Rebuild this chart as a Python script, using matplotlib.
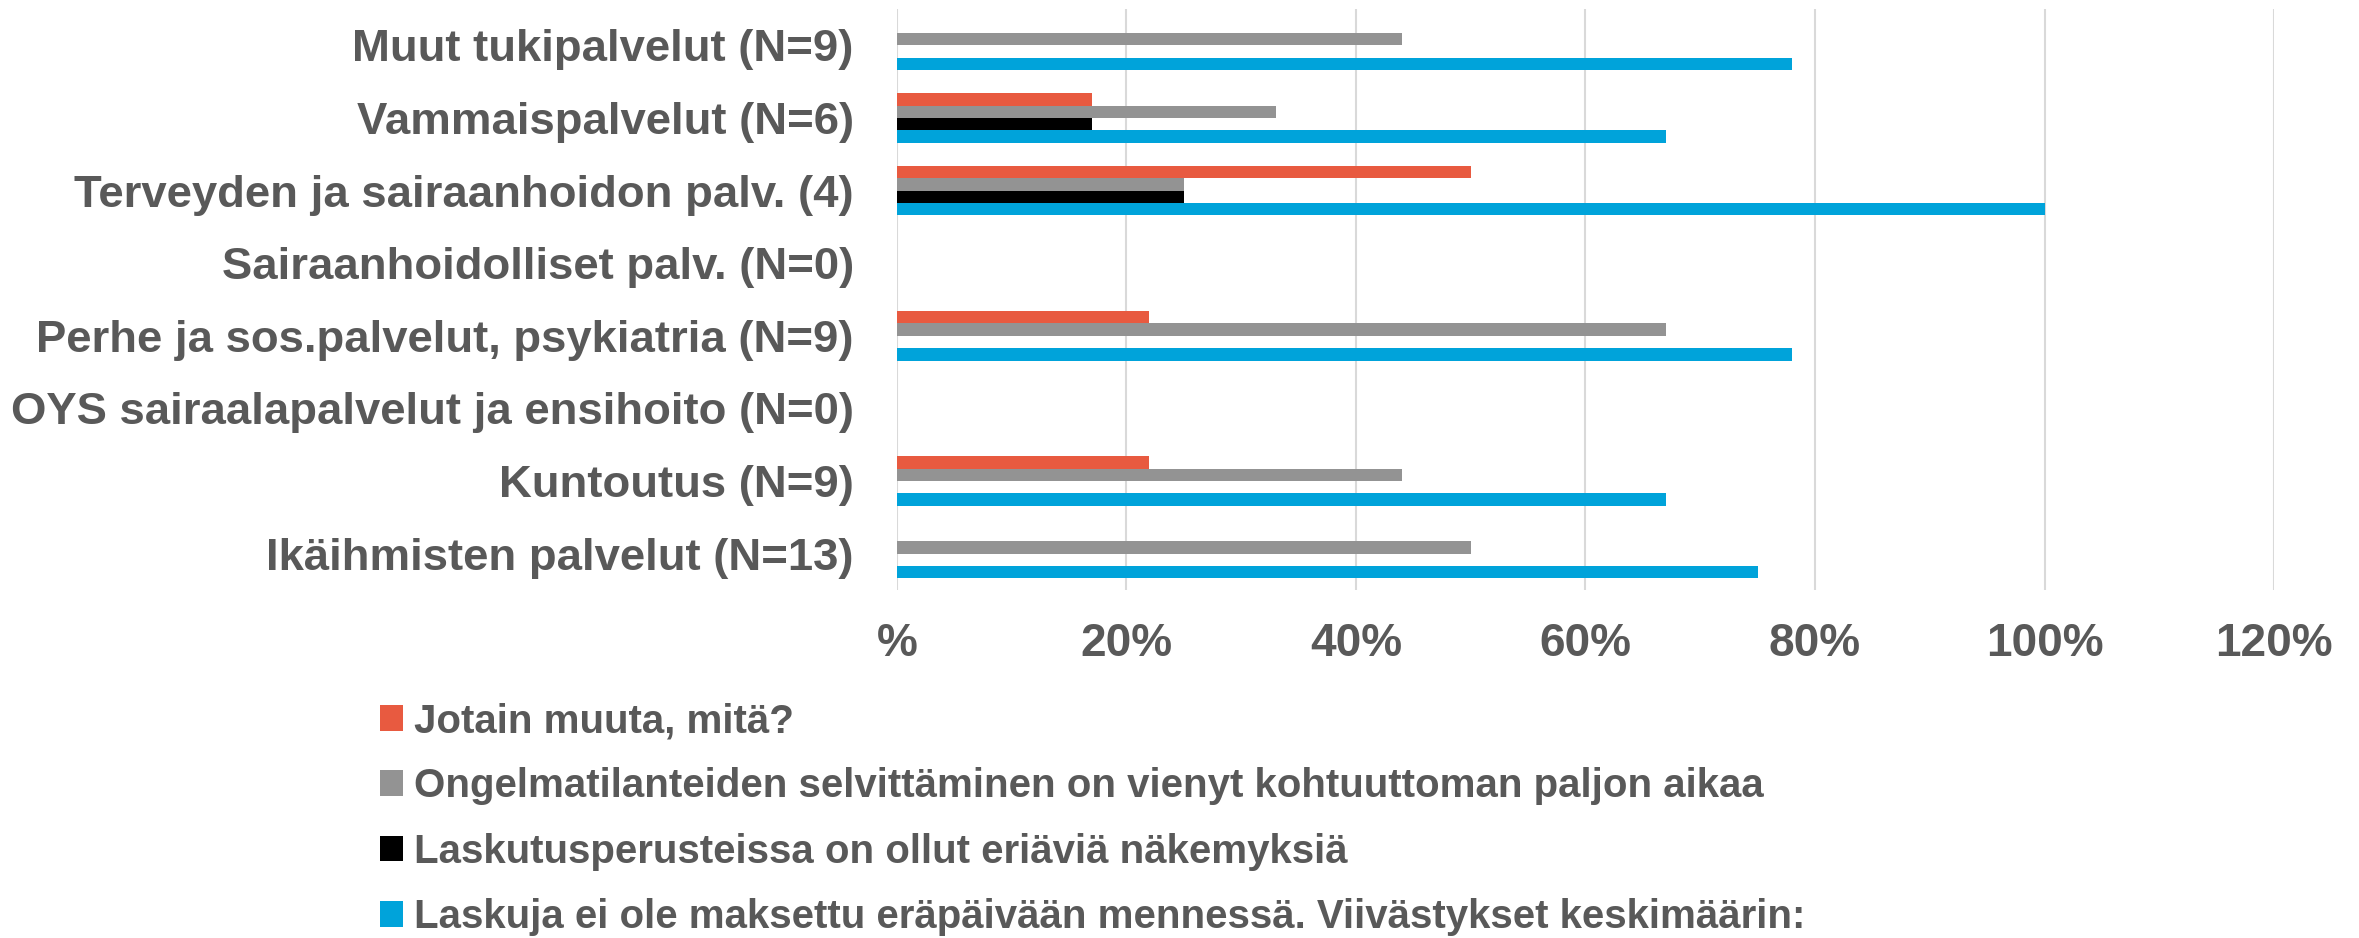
import numpy as np
import matplotlib.pyplot as plt
import matplotlib.patches as mpatches
from matplotlib.ticker import FuncFormatter

plt.rcParams["font.family"] = ["Liberation Sans", "DejaVu Sans"]

# === DATA (bottom -> top) ===
categories = [
    "Ikäihmisten palvelut (N=13)",
    "Kuntoutus (N=9)",
    "OYS sairaalapalvelut ja ensihoito (N=0)",
    "Perhe ja sos.palvelut, psykiatria (N=9)",
    "Sairaanhoidolliset palv. (N=0)",
    "Terveyden ja sairaanhoidon palv. (4)",
    "Vammaispalvelut (N=6)",
    "Muut tukipalvelut (N=9)",
]

series_names = [
    "Jotain muuta, mitä?",
    "Ongelmatilanteiden selvittäminen on vienyt kohtuuttoman paljon aikaa",
    "Laskutusperusteissa on ollut eriäviä näkemyksiä",
    "Laskuja ei ole maksettu eräpäivään mennessä. Viivästykset keskimäärin:",
]

jotain_muuta = [0.00, 0.22, 0.00, 0.22, 0.00, 0.50, 0.17, 0.00]
ongelmat = [0.50, 0.44, 0.00, 0.67, 0.00, 0.25, 0.33, 0.44]
laskutusperusteet = [0.00, 0.00, 0.00, 0.00, 0.00, 0.25, 0.17, 0.00]
myohassa = [0.75, 0.67, 0.00, 0.78, 0.00, 1.00, 0.67, 0.78]

x_ticks = [0, 0.2, 0.4, 0.6, 0.8, 1.0, 1.2]

# === STYLE ===
COLORS = ["#E85A40", "#939393", "#000000", "#00A3DA"]
TEXT_COLOR = "#595959"
GRID_COLOR = "#D9D9D9"
YLABEL_SIZE = 32.75
XLABEL_SIZE = 33
LEGEND_SIZE = 29

fig = plt.figure(figsize=(23.59, 9.38), dpi=100)
ax = fig.add_axes([0.3802, 0.371, 0.964 - 0.3802, 0.9904 - 0.371])

y = np.arange(len(categories))
h = 0.17
all_series = [jotain_muuta, ongelmat, laskutusperusteet, myohassa]
offsets = [1.5 * h, 0.5 * h, -0.5 * h, -1.5 * h]

for vals, off, color in zip(all_series, offsets, COLORS):
    ax.barh(y + off, vals, height=h, color=color, zorder=3)

ax.set_xlim(0, 1.2)
ax.set_ylim(-0.5, len(categories) - 0.5)
ax.set_xticks(x_ticks)
ax.xaxis.set_major_formatter(FuncFormatter(lambda v, p: "%" if v == 0 else f"{v * 100:.0f}%"))
ax.set_yticks(y)
ax.set_yticklabels(categories)

for lab in ax.get_xticklabels():
    lab.set_fontsize(XLABEL_SIZE)
    lab.set_fontweight("bold")
    lab.set_color(TEXT_COLOR)
for lab in ax.get_yticklabels():
    lab.set_fontsize(YLABEL_SIZE)
    lab.set_fontweight("bold")
    lab.set_color(TEXT_COLOR)

ax.tick_params(axis="both", length=0)
ax.tick_params(axis="y", pad=31)
ax.tick_params(axis="x", pad=23)
ax.grid(axis="x", color=GRID_COLOR, linewidth=1.5, zorder=0)
for s in ax.spines.values():
    s.set_visible(False)

handles = [mpatches.Patch(facecolor=c, label=n) for c, n in zip(COLORS, series_names)]
fig.legend(
    handles=handles,
    loc="upper left",
    bbox_to_anchor=(0.161, 0.2515),
    frameon=False,
    prop={"size": LEGEND_SIZE, "weight": "bold"},
    labelcolor=TEXT_COLOR,
    handlelength=0.57,
    handleheight=0.6,
    handletextpad=0.27,
    labelspacing=0.68,
    borderpad=0,
    borderaxespad=0,
)

fig.savefig("out.png", dpi=100)
